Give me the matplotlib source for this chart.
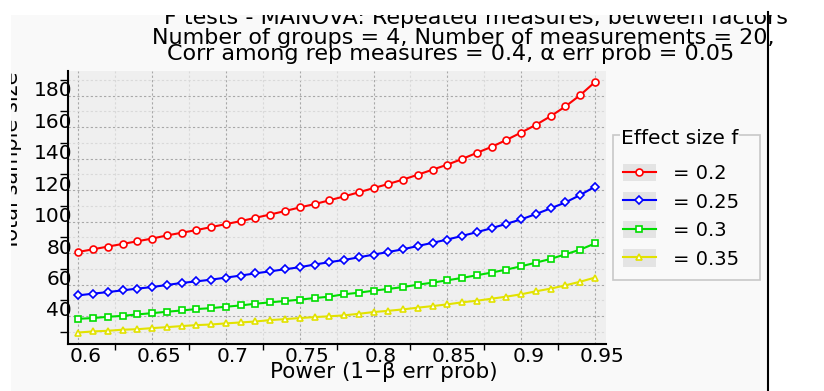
import matplotlib
matplotlib.use('Agg')
import matplotlib.pyplot as plt
from matplotlib.patches import Rectangle
from matplotlib.lines import Line2D
from matplotlib.legend_handler import HandlerLine2D
import matplotlib.transforms as mtransforms

plt.rcParams['font.family'] = ['DejaVu Sans']

# ---------------- data ----------------
power = [0.60, 0.61, 0.62, 0.63, 0.64, 0.65, 0.66, 0.67, 0.68, 0.69,
         0.70, 0.71, 0.72, 0.73, 0.74, 0.75, 0.76, 0.77, 0.78, 0.79,
         0.80, 0.81, 0.82, 0.83, 0.84, 0.85, 0.86, 0.87, 0.88, 0.89,
         0.90, 0.91, 0.92, 0.93, 0.94, 0.95]

n_f020 = [80.7, 82.4, 84.1, 85.8, 87.5, 89.2, 91.2, 92.9, 94.6, 96.5,
          98.4, 100.3, 102.4, 104.5, 106.7, 109.0, 111.1, 113.5, 116.0, 118.6,
          121.3, 123.9, 126.7, 129.8, 133.0, 136.2, 139.8, 143.7, 147.5, 151.9,
          156.6, 161.5, 167.0, 173.2, 180.4, 188.7]
n_f025 = [53.1, 54.2, 55.2, 56.3, 57.4, 58.4, 59.7, 61.0, 62.0, 63.1,
          64.4, 65.7, 67.1, 68.4, 69.7, 71.0, 72.7, 74.2, 75.6, 77.3,
          79.0, 80.7, 82.4, 84.5, 86.5, 88.6, 90.9, 93.3, 95.8, 98.6,
          101.4, 104.8, 108.4, 112.2, 116.9, 122.2]
n_f030 = [38.2, 38.7, 39.5, 40.1, 41.0, 41.8, 42.7, 43.5, 44.4, 45.0,
          45.9, 46.7, 47.8, 48.7, 49.5, 50.4, 51.4, 52.3, 53.8, 54.8,
          56.1, 57.2, 58.4, 59.9, 61.2, 62.7, 64.2, 65.9, 67.6, 69.5,
          71.6, 73.9, 76.3, 79.2, 82.2, 86.1]
n_f035 = [29.5, 30.2, 30.6, 31.3, 31.6, 32.3, 32.9, 33.6, 34.2, 34.6,
          35.3, 35.9, 36.5, 37.4, 38.0, 38.7, 39.3, 39.8, 40.4, 41.4,
          42.5, 43.3, 44.2, 45.3, 46.3, 47.4, 48.7, 49.7, 51.0, 52.3,
          53.8, 55.7, 57.4, 59.5, 61.8, 64.4]

series = [n_f020, n_f025, n_f030, n_f035]
effect_labels = ['= 0.2', '= 0.25', '= 0.3', '= 0.35']
colors = ['#ff0000', '#0000ff', '#00dd00', '#e2e200']
markers = ['o', 'D', 's', '^']
marker_sizes = [5.0, 4.2, 4.2, 4.6]

title_lines = ['F tests - MANOVA: Repeated measures, between factors',
               'Number of groups = 4, Number of measurements = 20,',
               'Corr among rep measures = 0.4, \u03b1 err prob = 0.05']
x_label = 'Power (1\u2212\u03b2 err prob)'
y_label = 'Total sample size'
legend_title = 'Effect size f'

x_ticks = [0.6, 0.65, 0.7, 0.75, 0.8, 0.85, 0.9, 0.95]
x_ticklabels = ['0.6', '0.65', '0.7', '0.75', '0.8', '0.85', '0.9', '0.95']
x_minor = [0.625, 0.675, 0.725, 0.775, 0.825, 0.875, 0.925]
y_ticks = [40, 60, 80, 100, 120, 140, 160, 180]
y_ticklabels = ['40', '60', '80', '100', '120', '140', '160', '180']
y_minor = [30, 50, 70, 90, 110, 130, 150, 170, 190]

# ---------------- figure ----------------
W, H = 824, 391
fig = plt.figure(figsize=(W / 100, H / 100), dpi=100, facecolor='white')
PANEL = '#f9f9f9'

def fx(x):
    return x / W

def fy(y):
    return 1 - y / H

fig.add_artist(Rectangle((fx(11), 0), fx(767) - fx(11), fy(15), transform=fig.transFigure,
                         facecolor=PANEL, edgecolor='none', zorder=-5))

ax = fig.add_axes([fx(68), fy(344), fx(606) - fx(68), (344 - 71) / H])
ax.set_facecolor('#efefef')
ax.set_axisbelow(True)

for vals, col, mk, ms, lab in zip(series, colors, markers, marker_sizes, effect_labels):
    ax.plot(power, vals, color=col, lw=1.5, marker=mk, markersize=ms,
            markerfacecolor='white', markeredgecolor=col, markeredgewidth=1.2,
            label=lab, zorder=3, clip_on=False)

ax.set_xlim(0.59302, 0.95745)
ax.set_ylim(22.2, 195.7)

ax.set_xticks(x_ticks)
ax.set_xticklabels(x_ticklabels)
ax.set_xticks(x_minor, minor=True)
ax.set_yticks(y_ticks)
ax.set_yticklabels(y_ticklabels)
ax.set_yticks(y_minor, minor=True)

ax.grid(which='major', color='#a8a8a8', linestyle=(0, (2, 2)), linewidth=0.8)
ax.grid(which='minor', color='#d9d9d9', linestyle=(0, (2, 2)), linewidth=0.8)

ax.tick_params(which='major', length=0, labelsize=14.5, colors='black')
ax.tick_params(axis='x', which='major', pad=2.0)
ax.tick_params(axis='y', which='major', pad=-3.0)
ax.tick_params(axis='x', which='minor', length=4, width=1.0, direction='out')
ax.tick_params(axis='y', which='minor', length=5.8, width=1.0, direction='out')

for s in ['top', 'right']:
    ax.spines[s].set_visible(False)
for s in ['left', 'bottom']:
    ax.spines[s].set_linewidth(1.5)
    ax.spines[s].set_color('black')

off_x = mtransforms.ScaledTranslation(0.07, 0, fig.dpi_scale_trans)
off_y = mtransforms.ScaledTranslation(0, 0.07, fig.dpi_scale_trans)
for lab in ax.get_xticklabels():
    lab.set_transform(lab.get_transform() + off_x)
for lab in ax.get_yticklabels():
    lab.set_transform(lab.get_transform() + off_y)

ax.set_xlabel(x_label, fontsize=15.5, va='baseline')
ax.xaxis.set_label_coords((384 - 68) / 538, (344 - 378) / 273)
ax.set_ylabel(y_label, fontsize=15, va='baseline')
ax.yaxis.set_label_coords((18.5 - 68) / 538, (344 - 161) / 273)

# titles
for txt, cx, by in zip(title_lines, [476, 463, 451], [24, 44, 60]):
    fig.text(fx(cx), fy(by), txt, ha='center', va='baseline', fontsize=16)

# legend
class BgHandler(HandlerLine2D):
    def create_artists(self, legend, orig_handle, xdescent, ydescent, width, height,
                       fontsize, trans):
        bg = Rectangle((-xdescent, -ydescent), width, height, facecolor='#e4e4e4',
                       edgecolor='none', transform=trans)
        arts = super().create_artists(legend, orig_handle, xdescent, ydescent, width,
                                      height, fontsize, trans)
        return [bg] + list(arts)

handles, labels = ax.get_legend_handles_labels()
fig.add_artist(Rectangle((fx(613), fy(280)), fx(760) - fx(613), (280 - 135) / H,
                         transform=fig.transFigure, facecolor=PANEL,
                         edgecolor='#c8c8c8', linewidth=1.2, zorder=1))
leg = fig.legend(handles, labels, loc='upper left',
                 bbox_to_anchor=(fx(622.7), fy(164)), bbox_transform=fig.transFigure,
                 frameon=False, borderpad=0, borderaxespad=0, numpoints=1,
                 handlelength=1.7, handleheight=1.0, handletextpad=0.9,
                 labelspacing=0.47, fontsize=14,
                 handler_map={Line2D: BgHandler()})
leg.set_zorder(5)
fig.text(fx(621), fy(138), legend_title, ha='left', va='center', fontsize=14.5, zorder=6,
         bbox=dict(facecolor=PANEL, edgecolor='none', pad=0.5))

# white margins (clip title and y label like the original) + black divider
fig.add_artist(Rectangle((0, fy(15)), 1, 15 / H, transform=fig.transFigure,
                         facecolor='white', edgecolor='none', zorder=20))
fig.add_artist(Rectangle((0, 0), fx(11), 1, transform=fig.transFigure,
                         facecolor='white', edgecolor='none', zorder=20))
fig.add_artist(Line2D([fx(767.5), fx(767.5)], [0, fy(12)], transform=fig.transFigure,
                      color='black', linewidth=1.5, zorder=21))

fig.savefig('out.png', dpi=100, facecolor='white')
